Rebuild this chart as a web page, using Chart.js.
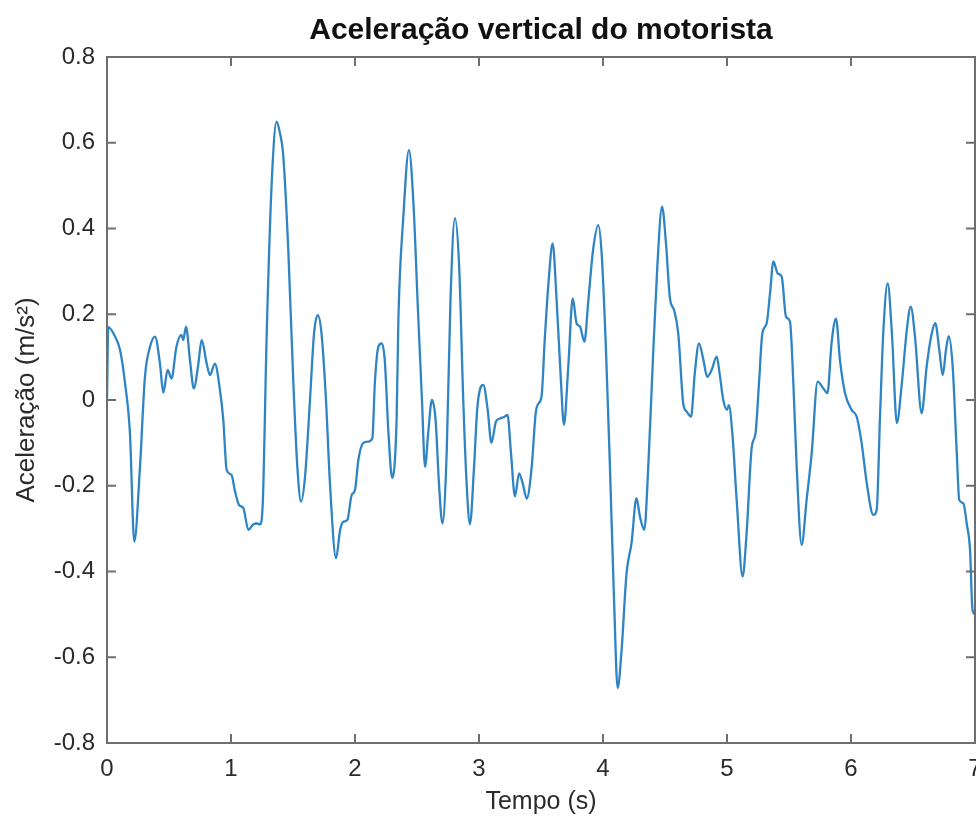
<!DOCTYPE html>
<html lang="pt">
<head>
  <meta charset="UTF-8">
  <title>Aceleração vertical do motorista</title>
  <script src="https://cdn.jsdelivr.net/npm/chart.js"></script>
  <style>
    body {
      margin: 0;
      padding: 0;
      background: #fff;
    }
    .wrap {
      width: 976px;
      height: 831px;
      position: relative;
    }
  </style>
</head>
<body>
  <div class="wrap">
    <canvas id="grafico"></canvas>
  </div>

  <script>
    // tempo (s) e aceleração (m/s²)
    const tempo = [
      0.00, 0.01, 0.065, 0.105, 0.145, 0.185, 0.22, 0.266, 0.306, 0.347,
      0.387, 0.427, 0.454, 0.489, 0.52, 0.56, 0.60, 0.615, 0.637, 0.669,
      0.70, 0.737, 0.763, 0.804, 0.83, 0.87, 0.911, 0.938, 0.965, 1.005,
      1.03, 1.065, 1.10, 1.14, 1.18, 1.21, 1.234, 1.255, 1.288, 1.328,
      1.368, 1.395, 1.42, 1.462, 1.503, 1.535, 1.565, 1.597, 1.637, 1.67,
      1.70, 1.73, 1.766, 1.798, 1.847, 1.88, 1.906, 1.938, 1.973, 2.00,
      2.027, 2.067, 2.108, 2.14, 2.16, 2.188, 2.215, 2.24, 2.27, 2.30,
      2.336, 2.35, 2.39, 2.435, 2.47, 2.51, 2.54, 2.565, 2.59, 2.62,
      2.65, 2.677, 2.705, 2.74, 2.77, 2.806, 2.84, 2.873, 2.90, 2.927,
      2.96, 2.987, 3.035, 3.07, 3.10, 3.137, 3.17, 3.205, 3.23, 3.258,
      3.29, 3.323, 3.352, 3.385, 3.425, 3.457, 3.475, 3.505, 3.53, 3.56,
      3.594, 3.626, 3.659, 3.685, 3.72, 3.756, 3.787, 3.815, 3.85, 3.882,
      3.92, 3.962, 3.989, 4.024, 4.056, 4.089, 4.118, 4.15, 4.19, 4.23,
      4.27, 4.298, 4.333, 4.365, 4.40, 4.438, 4.476, 4.508, 4.54, 4.573,
      4.607, 4.648, 4.675, 4.71, 4.74, 4.774, 4.81, 4.84, 4.876, 4.917,
      4.944, 4.97, 5.00, 5.015, 5.043, 5.078, 5.126, 5.158, 5.20, 5.23,
      5.258, 5.285, 5.32, 5.347, 5.374, 5.409, 5.441, 5.476, 5.508, 5.535,
      5.562, 5.602, 5.642, 5.683, 5.731, 5.777, 5.81, 5.843, 5.879, 5.911,
      5.952, 6.005, 6.046, 6.086, 6.127, 6.18, 6.207, 6.234, 6.26, 6.296,
      6.33, 6.37, 6.41, 6.45, 6.482, 6.516, 6.57, 6.61, 6.651, 6.68,
      6.712, 6.74, 6.766, 6.788, 6.82, 6.852, 6.873, 6.906, 6.933, 6.96,
      6.98, 7.00
    ];
    const aceleracao = [
      0.00, 0.17, 0.148, 0.117, 0.04, -0.077, -0.33, -0.156, 0.054, 0.124,
      0.148, 0.085, 0.017, 0.07, 0.05, 0.124, 0.152, 0.14, 0.171, 0.093,
      0.027, 0.085, 0.14, 0.085, 0.058, 0.085, 0.023, -0.047, -0.163, -0.175,
      -0.21, -0.245, -0.252, -0.303, -0.29, -0.288, -0.29, -0.249, 0.155, 0.505,
      0.649, 0.622, 0.575, 0.35, 0.039, -0.156, -0.237, -0.179, 0.0, 0.156,
      0.198, 0.155, 0.0, -0.194, -0.369, -0.303, -0.284, -0.28, -0.222, -0.21,
      -0.14, -0.10, -0.097, -0.089, 0.039, 0.124, 0.132, 0.093, -0.078, -0.182,
      -0.039, 0.19, 0.428, 0.583, 0.466, 0.194, 0.0, -0.156, -0.078, 0.0,
      -0.047, -0.194, -0.288, -0.117, 0.233, 0.424, 0.311, 0.0, -0.194, -0.29,
      -0.156, -0.016, 0.035, -0.023, -0.10, -0.05, -0.043, -0.039, -0.035, -0.124,
      -0.225, -0.171, -0.194, -0.23, -0.156, -0.031, -0.01, 0.01, 0.14, 0.272,
      0.365, 0.233, 0.054, -0.058, 0.078, 0.237, 0.179, 0.171, 0.136, 0.233,
      0.35, 0.408, 0.342, 0.117, -0.156, -0.466, -0.672, -0.583, -0.404, -0.334,
      -0.229, -0.272, -0.303, -0.156, 0.078, 0.311, 0.451, 0.365, 0.237, 0.21,
      0.155, -0.01, -0.027, -0.039, 0.062, 0.132, 0.093, 0.054, 0.07, 0.101,
      0.054, 0.0, -0.023, -0.012, -0.078, -0.233, -0.412, -0.311, -0.109, -0.078,
      0.039, 0.155, 0.179, 0.249, 0.323, 0.295, 0.288, 0.194, 0.183, 0.039,
      -0.156, -0.338, -0.233, -0.124, 0.043, 0.027, 0.016, 0.132, 0.19, 0.093,
      0.016, -0.023, -0.039, -0.101, -0.194, -0.268, -0.257, -0.039, 0.155, 0.272,
      0.155, -0.054, 0.039, 0.163, 0.218, 0.148, -0.031, 0.078, 0.155, 0.179,
      0.117, 0.058, 0.117, 0.149, 0.078, -0.117, -0.233, -0.241, -0.288, -0.35,
      -0.49, -0.50
    ];
    const ticksX = [0, 1, 2, 3, 4, 5, 6, 7];
    const ticksY = [-0.8, -0.6, -0.4, -0.2, 0, 0.2, 0.4, 0.6, 0.8];

    const FONTE = "'Liberation Sans', Arial, Helvetica, sans-serif";
    const COR_EIXO = '#6e6e6e';
    const COR_TEXTO = '#2b2b2b';

    // moldura estilo MATLAB: caixa fechada e marcas para dentro nos 4 lados
    const moldura = {
      id: 'moldura',
      afterDraw(chart) {
        const { ctx, chartArea: a, scales } = chart;
        const len = 9;
        ctx.save();
        ctx.strokeStyle = COR_EIXO;
        ctx.lineWidth = 2;
        ctx.strokeRect(a.left, a.top, a.right - a.left, a.bottom - a.top);
        ctx.beginPath();
        ticksX.forEach(v => {
          const px = scales.x.getPixelForValue(v);
          ctx.moveTo(px, a.bottom); ctx.lineTo(px, a.bottom - len);
          ctx.moveTo(px, a.top);    ctx.lineTo(px, a.top + len);
        });
        ticksY.forEach(v => {
          const py = scales.y.getPixelForValue(v);
          ctx.moveTo(a.left, py);  ctx.lineTo(a.left + len, py);
          ctx.moveTo(a.right, py); ctx.lineTo(a.right - len, py);
        });
        ctx.stroke();
        ctx.restore();
      }
    };

    new Chart(document.getElementById('grafico'), {
      type: 'line',
      data: {
        datasets: [{
          data: tempo.map((t, i) => ({ x: t, y: aceleracao[i] })),
          borderColor: '#2f84c4',
          borderWidth: 2.3,
          pointRadius: 0,
          cubicInterpolationMode: 'monotone',
          fill: false
        }]
      },
      options: {
        responsive: true,
        maintainAspectRatio: false,
        animation: false,
        layout: { padding: { left: 0, right: 1, top: 0, bottom: 0 } },
        plugins: {
          legend: { display: false },
          tooltip: { enabled: false },
          title: {
            display: true,
            fullSize: false,
            text: 'Aceleração vertical do motorista',
            color: '#111',
            font: { family: FONTE, size: 30, weight: 'bold' },
            padding: { top: 13, bottom: 8 }
          }
        },
        scales: {
          x: {
            type: 'linear',
            min: 0,
            max: 7,
            afterBuildTicks: s => { s.ticks = ticksX.map(v => ({ value: v })); },
            afterFit: s => { s.height = 88; s.paddingLeft = 0; s.paddingRight = 0; },
            grid: { display: false, drawTicks: false },
            border: { display: false },
            ticks: {
              color: COR_TEXTO,
              font: { family: FONTE, size: 24 },
              padding: 12,
              maxRotation: 0
            },
            title: {
              display: true,
              text: 'Tempo (s)',
              color: COR_TEXTO,
              font: { family: FONTE, size: 25 },
              padding: { top: 0, bottom: 14 }
            }
          },
          y: {
            type: 'linear',
            min: -0.8,
            max: 0.8,
            afterBuildTicks: s => { s.ticks = ticksY.map(v => ({ value: v })); },
            afterFit: s => { s.width = 107; s.paddingTop = 0; s.paddingBottom = 0; },
            grid: { display: false, drawTicks: false },
            border: { display: false },
            ticks: {
              color: COR_TEXTO,
              font: { family: FONTE, size: 24 },
              padding: 12,
              callback: v => String(Number(v.toFixed(1)))
            },
            title: {
              display: true,
              text: 'Aceleração (m/s²)',
              color: COR_TEXTO,
              font: { family: FONTE, size: 26 },
              padding: { top: 11, bottom: 0 }
            }
          }
        }
      },
      plugins: [moldura]
    });
  </script>
</body>
</html>
